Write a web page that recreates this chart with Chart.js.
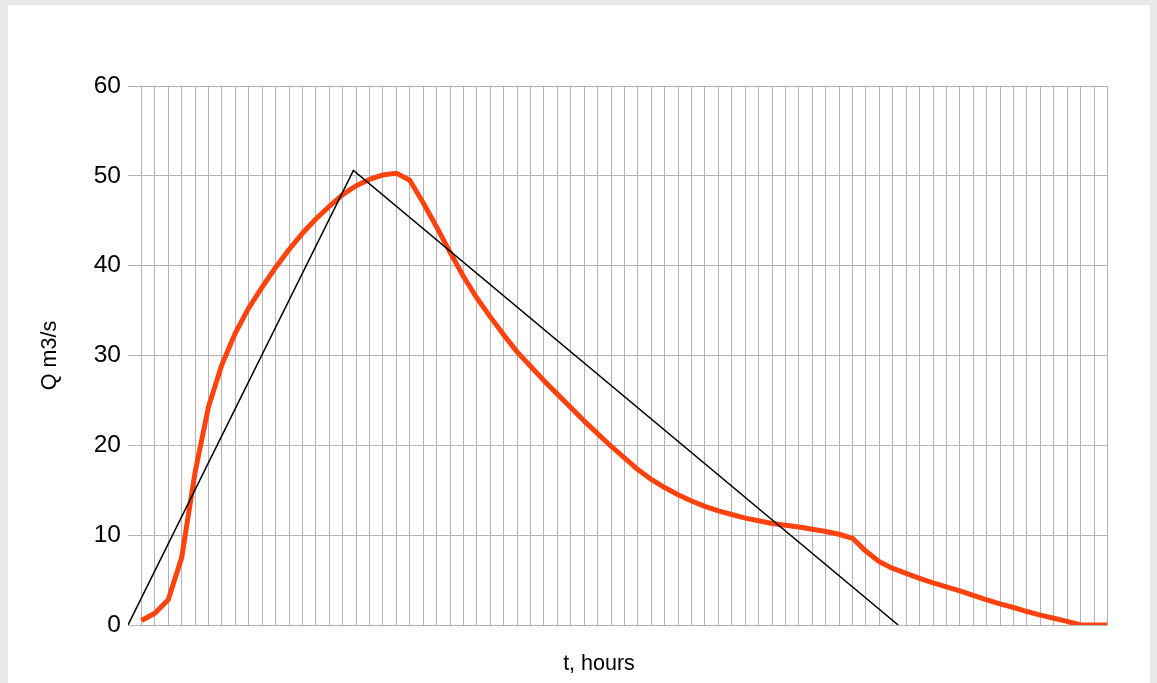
<!DOCTYPE html>
<html>
<head>
<meta charset="utf-8">
<script src="https://cdn.jsdelivr.net/npm/chart.js@4"></script>
<style>
  html, body { margin: 0; padding: 0; background: #e9e9e9; }
  #wrap { width: 1157px; height: 683px; position: relative; }
  canvas { display: block; }
</style>
</head>
<body>
<div id="wrap"><canvas id="c" width="1157" height="683"></canvas></div>
<script>
// Observed hydrograph (hours, Q m3/s)
const hours = [1,2,3,4,5,6,7,8,9,10,11,12,13,14,15,16,17,18,19,20,21,22,23,24,25,26,27,28,29,30,31,32,33,34,35,36,37,38,39,40,41,42,43,44,45,46,47,48,49,50,51,52,53,54,55,56,57,58,59,60,61,62,63,64,65,66,67,68,69,70,71,72,73];
const flow = [0.5,1.3,2.8,7.5,17.0,24.3,29.0,32.5,35.3,37.6,39.8,41.8,43.6,45.2,46.6,47.9,48.9,49.6,50.1,50.3,49.5,47.0,44.3,41.5,38.8,36.4,34.3,32.3,30.4,28.8,27.2,25.7,24.2,22.7,21.3,19.9,18.6,17.3,16.2,15.3,14.5,13.8,13.2,12.7,12.3,11.9,11.6,11.3,11.1,10.9,10.65,10.4,10.1,9.65,8.2,7.05,6.3,5.75,5.2,4.7,4.25,3.8,3.3,2.8,2.35,1.95,1.5,1.1,0.75,0.4,0,0,0];
// Triangular (synthetic) hydrograph
const triHours = [0, 16.8, 57.4];
const triFlow = [0, 50.6, 0];
// Axis settings
const yTicks = [0, 10, 20, 30, 40, 50, 60];
const xMax = 73;
const yTitle = 'Q m3/s';
const xTitle = 't, hours';

const observed = hours.map((h, i) => ({x: h, y: flow[i]}));
const triangle = triHours.map((h, i) => ({x: h, y: triFlow[i]}));

const FONT = '"Liberation Sans", Arial, sans-serif';

const bgPlugin = {
  id: 'bg',
  beforeDraw(chart) {
    const ctx = chart.ctx;
    ctx.save();
    ctx.fillStyle = '#e9e9e9';
    ctx.fillRect(0, 0, chart.width, chart.height);
    ctx.fillStyle = '#ffffff';
    ctx.fillRect(8, 5, 1142, chart.height - 5);
    ctx.restore();
  },
  afterDraw(chart) {
    const ctx = chart.ctx;
    ctx.save();
    ctx.fillStyle = '#000';
    ctx.font = '21.5px ' + FONT;
    ctx.textAlign = 'center';
    ctx.textBaseline = 'middle';
    ctx.fillText(xTitle, 599, 664);
    ctx.restore();
  }
};

new Chart(document.getElementById('c'), {
  type: 'scatter',
  data: {
    datasets: [
      {
        label: 'Observed',
        data: observed,
        showLine: true,
        borderColor: '#ff420e',
        backgroundColor: '#ff420e',
        borderWidth: 5,
        pointRadius: 0,
        borderJoinStyle: 'round',
        borderCapStyle: 'butt',
        tension: 0,
        order: 2
      },
      {
        label: 'Triangular',
        data: triangle,
        showLine: true,
        borderColor: '#000000',
        backgroundColor: '#000000',
        borderWidth: 1.5,
        pointRadius: 0,
        tension: 0,
        order: 1
      }
    ]
  },
  options: {
    responsive: false,
    devicePixelRatio: 1,
    animation: false,
    layout: { padding: { left: 0, top: 86, right: 49.5, bottom: 0 } },
    plugins: { legend: { display: false }, tooltip: { enabled: false } },
    scales: {
      x: {
        type: 'linear',
        min: 0,
        max: xMax,
        border: { display: false },
        ticks: { display: false, stepSize: 1 },
        grid: {
          drawTicks: false,
          color: (c) => (c.tick && c.tick.value === 0) ? 'rgba(0,0,0,0)' : '#b3b3b3',
          lineWidth: 1
        },
        afterFit(scale) { scale.height = 58; }
      },
      y: {
        type: 'linear',
        min: 0,
        max: 60,
        border: { display: false },
        afterBuildTicks(scale) { scale.ticks = yTicks.map(v => ({value: v})); },
        ticks: {
          color: '#000',
          padding: 7,
          font: { family: FONT, size: 24.5 }
        },
        grid: { drawTicks: false, color: '#b3b3b3', lineWidth: 1 },
        title: {
          display: true,
          text: yTitle,
          color: '#000',
          font: { family: FONT, size: 21.5 },
          padding: { top: 37, bottom: 0 }
        },
        afterFit(scale) { scale.width = 128; }
      }
    }
  },
  plugins: [bgPlugin]
});
</script>
</body>
</html>
